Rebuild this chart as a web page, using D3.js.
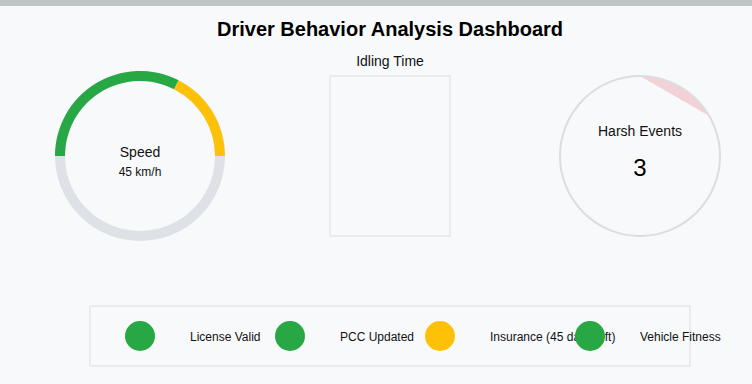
<!DOCTYPE html>
<html><head><meta charset="utf-8">
<script src="https://cdn.jsdelivr.net/npm/d3@7"></script>
<style>
html,body{margin:0;padding:0;background:#f8f9fa;}
svg{display:block;font-family:"Liberation Sans",Arial,sans-serif;}
</style></head>
<body>
<script>
const title = "Driver Behavior Analysis Dashboard";
const speedValue = 45;
const speedUnit = "km/h";
const speedSegments = [65, 35];          // green / yellow share of the half gauge
const speedSegmentColors = ["#28a745", "#ffc107"];
const speedMax = 100;
const idlingLabel = "Idling Time";
const harshLabel = "Harsh Events";
const harshValue = 3;
const harshMax = 18;
const complianceLabels = ["License Valid", "PCC Updated", "Insurance (45 days left)", "Vehicle Fitness"];
const complianceStatus = ["ok", "ok", "warn", "ok"];
const statusColors = {ok: "#28a745", warn: "#ffc107"};

const W = 752, H = 384;
const svg = d3.select("body").append("svg").attr("width", W).attr("height", H);
svg.append("rect").attr("width", W).attr("height", H).attr("fill", "#f8f9fa");
svg.append("rect").attr("width", W).attr("height", 6).attr("fill", "#c0c6c5");

svg.append("text").attr("x", 390).attr("y", 36).attr("text-anchor", "middle")
  .attr("font-size", 20).attr("font-weight", "bold").attr("fill", "#000").text(title);

// Speed gauge
const g1 = svg.append("g").attr("transform", "translate(140,156)");
const arc = d3.arc().innerRadius(75).outerRadius(85);
g1.append("path").attr("d", arc({startAngle: 0, endAngle: 2 * Math.PI})).attr("fill", "#dee2e6");
const angle = d3.scaleLinear().domain([0, speedMax]).range([-Math.PI / 2, Math.PI / 2]);
let acc = 0;
speedSegments.forEach((v, i) => {
  g1.append("path").attr("d", arc({startAngle: angle(acc), endAngle: angle(acc + v)}))
    .attr("fill", speedSegmentColors[i]);
  acc += v;
});
g1.append("text").attr("y", 1).attr("text-anchor", "middle").attr("font-size", 14).attr("fill", "#111").text("Speed");
g1.append("text").attr("y", 20).attr("text-anchor", "middle").attr("font-size", 12).attr("font-weight", 500).attr("fill", "#111").text(speedValue + " " + speedUnit);

// Idling time
svg.append("text").attr("x", 390).attr("y", 66).attr("text-anchor", "middle").attr("font-size", 14).attr("fill", "#111").text(idlingLabel);
svg.append("rect").attr("x", 330).attr("y", 76).attr("width", 120).attr("height", 160)
  .attr("fill", "none").attr("stroke", "#e6e6e6").attr("stroke-width", 1.5);

// Harsh events
const g3 = svg.append("g").attr("transform", "translate(640,156)");
const R = 80;
const hAngle = d3.scaleLinear().domain([0, harshMax]).range([0, 2 * Math.PI]);
const a1 = hAngle(harshValue);
const p = d3.path();
p.moveTo(0, -R);
p.arc(0, 0, R, -Math.PI / 2, -Math.PI / 2 + a1);
p.closePath();
g3.append("path").attr("d", p.toString()).attr("fill", "rgba(220,53,69,0.2)");
g3.append("circle").attr("r", R).attr("fill", "none").attr("stroke", "#dddddd").attr("stroke-width", 2);
g3.append("text").attr("y", -20).attr("text-anchor", "middle").attr("font-size", 14).attr("fill", "#111").text(harshLabel);
g3.append("text").attr("y", 20).attr("text-anchor", "middle").attr("font-size", 24).attr("fill", "#000").text(harshValue);

// Compliance legend
svg.append("rect").attr("x", 90).attr("y", 306).attr("width", 600).attr("height", 60)
  .attr("fill", "none").attr("stroke", "#e6e6e6").attr("stroke-width", 1.5);
const x = d3.scalePoint().domain(complianceLabels).range([140, 590]);
complianceLabels.forEach((lab, i) => {
  svg.append("circle").attr("cx", x(lab)).attr("cy", 336).attr("r", 15).attr("fill", statusColors[complianceStatus[i]]);
  svg.append("text").attr("x", x(lab) + 50).attr("y", 341).attr("font-size", 12).attr("fill", "#111").text(lab);
});
</script>
</body></html>
